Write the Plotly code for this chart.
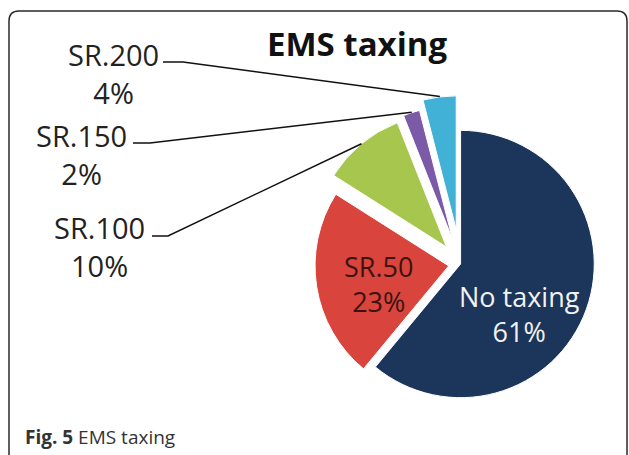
import math
import plotly.graph_objects as go

# ---- data ----
labels = ["No taxing", "SR.50", "SR.100", "SR.150", "SR.200"]
values = [61, 23, 10, 2, 4]
colors = ["#1c355a", "#d9443c", "#a6c64e", "#7b5aa8", "#41b2d6"]
pulls = [0.0, 0.09, 0.165, 0.19, 0.26]
inside = [True, True, False, False, False]

W, H = 629, 455
def px(x):
    return x / W
def py(y):
    return 1 - y / H

# pie geometry (pixels)
CX, CY = 461, 264
MAXP = max(pulls)
R = 134
half = R * (1 + MAXP)
total = sum(values)

fig = go.Figure(go.Pie(
    labels=labels, values=values, sort=False, direction="clockwise", rotation=0,
    pull=pulls, textinfo="none",
    marker=dict(colors=colors, line=dict(color="white", width=1)),
    domain=dict(x=[px(CX - half), min(1.0, px(CX + half))], y=[py(CY + half), py(CY - half)]),
    hoverinfo="none", showlegend=False,
))

# label placement (pixels): text centre x, y
label_pos = {"No taxing": (519, 314), "SR.50": (378, 284),
             "SR.100": (99, 247), "SR.150": (81, 154), "SR.200": (113, 74)}
# leader stub: x start, x end, y
stub_pos = {"SR.100": (152, 168, 236), "SR.150": (133, 150, 143), "SR.200": (163, 183, 62)}
inside_colors = {"No taxing": "#f2f2f2", "SR.50": "#3a1410"}

shapes = []
annotations = []
cum = 0
for l, v, p, ins in zip(labels, values, pulls, inside):
    a0 = cum / total * 360
    cum += v
    a1 = cum / total * 360
    tx, ty = label_pos[l]
    txt = f"{l}<br>{round(v / total * 100)}%"
    if ins:
        annotations.append(dict(x=px(tx), y=py(ty), xref="paper", yref="paper", showarrow=False,
                                text=txt, xanchor="center", yanchor="middle",
                                font=dict(family="Open Sans", size=27, color=inside_colors[l])))
        continue
    mid = math.radians((a0 + a1) / 2)
    dist = R + p * R
    ex = CX + dist * math.sin(mid)
    ey = CY - dist * math.cos(mid)
    lx0, lx1, ly = stub_pos[l]
    annotations.append(dict(x=px(tx), y=py(ty), xref="paper", yref="paper", showarrow=False,
                            text=txt, xanchor="center", yanchor="middle",
                            font=dict(family="Open Sans", size=29, color="#222")))
    path = f"M {px(lx0)},{py(ly)} L {px(lx1)},{py(ly)} L {px(ex)},{py(ey)}"
    shapes.append(dict(type="path", xref="paper", yref="paper", path=path,
                       line=dict(color="#111", width=1.5)))

# title
annotations.append(dict(x=px(357), y=py(43), xref="paper", yref="paper", showarrow=False,
                        text="<b>EMS taxing</b>", xanchor="center", yanchor="middle",
                        font=dict(family="Open Sans", size=33, color="#111")))
# caption
annotations.append(dict(x=px(23), y=py(437), xref="paper", yref="paper", showarrow=False,
                        text="<b>Fig. 5</b> EMS taxing", xanchor="left", yanchor="middle",
                        font=dict(family="Open Sans", size=19, color="#333")))

# rounded frame
fx0, fy0, fx1, fy1, rr = 9, 11, 627, 470, 10
frame = (f"M {px(fx0)},{py(fy1)} L {px(fx0)},{py(fy0 + rr)} "
         f"Q {px(fx0)},{py(fy0)} {px(fx0 + rr)},{py(fy0)} "
         f"L {px(fx1 - rr)},{py(fy0)} Q {px(fx1)},{py(fy0)} {px(fx1)},{py(fy0 + rr)} "
         f"L {px(fx1)},{py(fy1)}")
shapes.append(dict(type="path", xref="paper", yref="paper", path=frame,
                   line=dict(color="#2a2a2a", width=1.5)))

fig.update_layout(width=W, height=H, margin=dict(l=0, r=0, t=0, b=0),
                  paper_bgcolor="white", plot_bgcolor="white",
                  shapes=shapes, annotations=annotations, showlegend=False)
fig.write_html("out.html", config={"displayModeBar": False},
               post_script="document.body.style.margin='0';")
